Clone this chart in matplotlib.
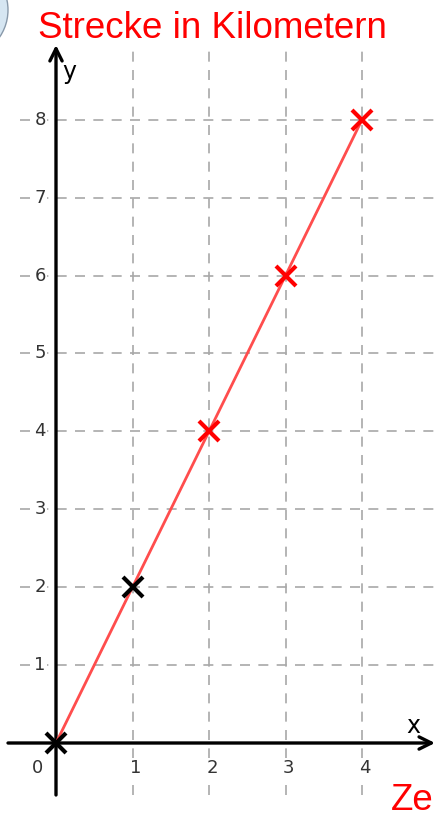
import matplotlib.pyplot as plt
from matplotlib.patches import Circle
from matplotlib.transforms import IdentityTransform

# Daten: Zeit (x) und Strecke (y)
x_vals = [0, 1, 2, 3, 4]
y_vals = [0, 2, 4, 6, 8]
marker_cols = ["black", "black", "red", "red", "red"]
x_ticks = [0, 1, 2, 3, 4]
y_ticks = [1, 2, 3, 4, 5, 6, 7, 8]

W, H = 437, 821
fig = plt.figure(figsize=(W/100, H/100), dpi=100)
ax = fig.add_axes([0, 0, 1, 1])
# pixel -> data: x0 at 56px, 76.5px/unit ; y0 at 743px, 77.9px/unit
sx, sy = 76.5, 77.9
ax.set_xlim(-56/sx, (W-56)/sx)
ax.set_ylim(-(H-743)/sy, 743/sy)
ax.axis("off")

grid = dict(color="#a8a8a8", lw=1.2, dashes=(6, 5), zorder=1)
for yv in y_ticks:
    ax.plot([-36/sx, W/sx], [yv, yv], **grid)
    ax.text(-16/sx, yv, str(yv), ha="center", va="center", fontsize=13,
            color="#333333", zorder=3,
            bbox=dict(fc="white", ec="none", pad=1))
for xv in x_ticks[1:]:
    ax.plot([xv, xv], [-(795-743)/sy, (743-45)/sy], **grid)
    ax.text(xv + 3/sx, -25/sy, str(xv), ha="center", va="center", fontsize=13,
            color="#333333", zorder=3,
            bbox=dict(fc="white", ec="none", pad=1))
ax.text(-18/sx, -25/sy, "0", ha="center", va="center", fontsize=13, color="#333333")

# Achsen mit Pfeilen
ax.annotate("", xy=((435-56)/sx, 0), xytext=(-48/sx, 0),
            arrowprops=dict(arrowstyle="->", lw=2.4, color="black",
                            mutation_scale=22, shrinkA=0, shrinkB=0), zorder=4)
ax.annotate("", xy=(0, (743-45)/sy), xytext=(0, -(795-743)/sy),
            arrowprops=dict(arrowstyle="->", lw=2.4, color="black",
                            mutation_scale=22, shrinkA=0, shrinkB=0), zorder=4)
ax.text(13/sx, (743-72)/sy, "y", fontsize=17, ha="center", va="center")
ax.text((413-56)/sx, (743-726)/sy, "x", fontsize=17, ha="center", va="center")

ax.plot(x_vals, y_vals, color="#ff4d4d", lw=2, zorder=5)
for xv, yv, c in zip(x_vals, y_vals, marker_cols):
    ax.plot(xv, yv, marker="x", ms=14, mew=3, color=c, zorder=6)

fig.text(38/W, 1 - 28/H, "Strecke in Kilometern", color="red", fontsize=26.5,
         ha="left", va="center", family="Liberation Sans")
fig.text(434/W, 1 - 810/H, "Ze", color="red", fontsize=26.5,
         ha="right", va="baseline", family="Liberation Sans")

c = Circle((-40, H - 10), 48, transform=IdentityTransform(), fc="#d6e6f2",
           ec="#8899aa", lw=1)
fig.patches.append(c)

fig.savefig("out.png", dpi=100)
